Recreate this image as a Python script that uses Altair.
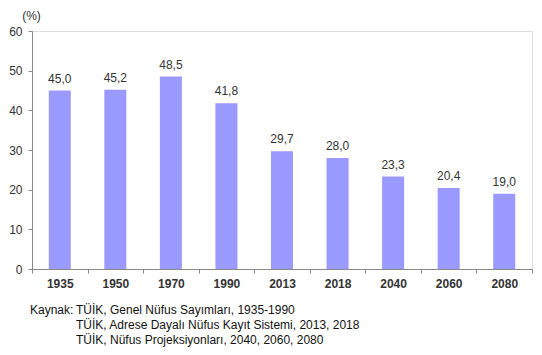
import altair as alt
import pandas as pd

years = ["1935", "1950", "1970", "1990", "2013", "2018", "2040", "2060", "2080"]
values = [45.0, 45.2, 48.5, 41.8, 29.7, 28.0, 23.3, 20.4, 19.0]
labels = ["45,0", "45,2", "48,5", "41,8", "29,7", "28,0", "23,3", "20,4", "19,0"]
source_lines = [
    "TÜİK, Genel Nüfus Sayımları, 1935-1990",
    "TÜİK, Adrese Dayalı Nüfus Kayıt Sistemi, 2013, 2018",
    "TÜİK, Nüfus Projeksiyonları, 2040, 2060, 2080",
]

df = pd.DataFrame({"year": years, "value": values, "label": labels})
FONT = "Liberation Sans"

x = alt.X("year:N", sort=years,
          scale=alt.Scale(paddingInner=0, paddingOuter=0),
          axis=alt.Axis(title=None, labelAngle=0, labelFontWeight="bold",
                        labelFontSize=12, labelColor="#333333", labelFont=FONT,
                        tickBand="extent", tickSize=4, tickColor="#888888",
                        domainColor="#888888", labelPadding=5))
y = alt.Y("value:Q",
          scale=alt.Scale(domain=[0, 60]),
          axis=alt.Axis(values=[0, 10, 20, 30, 40, 50, 60], title="(%)",
                        titleAngle=0, titleX=-1, titleY=-9, titleAlign="center",
                        titleFontWeight="normal", titleFontSize=12, titleFont=FONT,
                        titleColor="#333333",
                        labelFontSize=12, labelFont=FONT, labelColor="#333333",
                        tickSize=4, tickColor="#888888", domainColor="#888888",
                        grid=False, labelPadding=6))

bars = alt.Chart(df).mark_bar(size=22, color="#9999FF").encode(x=x, y=y)
text = alt.Chart(df).mark_text(baseline="bottom", dy=-5, fontSize=12, font=FONT,
                               color="#333333").encode(x=x, y=y, text="label:N")

src_layers = []
src_layers.append(alt.Chart(pd.DataFrame({"t": ["Kaynak:"]})).mark_text(
    align="left", baseline="middle", fontSize=12, font=FONT, color="#111111"
).encode(x=alt.value(-2), y=alt.value(279), text="t:N"))
for i, line in enumerate(source_lines):
    src_layers.append(alt.Chart(pd.DataFrame({"t": [line]})).mark_text(
        align="left", baseline="middle", fontSize=12, font=FONT, color="#111111"
    ).encode(x=alt.value(44), y=alt.value(279 + i * 15), text="t:N"))

chart = alt.layer(bars, text, *src_layers).properties(
    width=500, height=238,
    autosize=alt.AutoSizeParams(type="none"),
    padding={"left": 32, "top": 31, "right": 10, "bottom": 86},
).configure_view(stroke=None).configure(background="white")

chart.save("out.html", embed_options={"renderer": "svg", "actions": False})
